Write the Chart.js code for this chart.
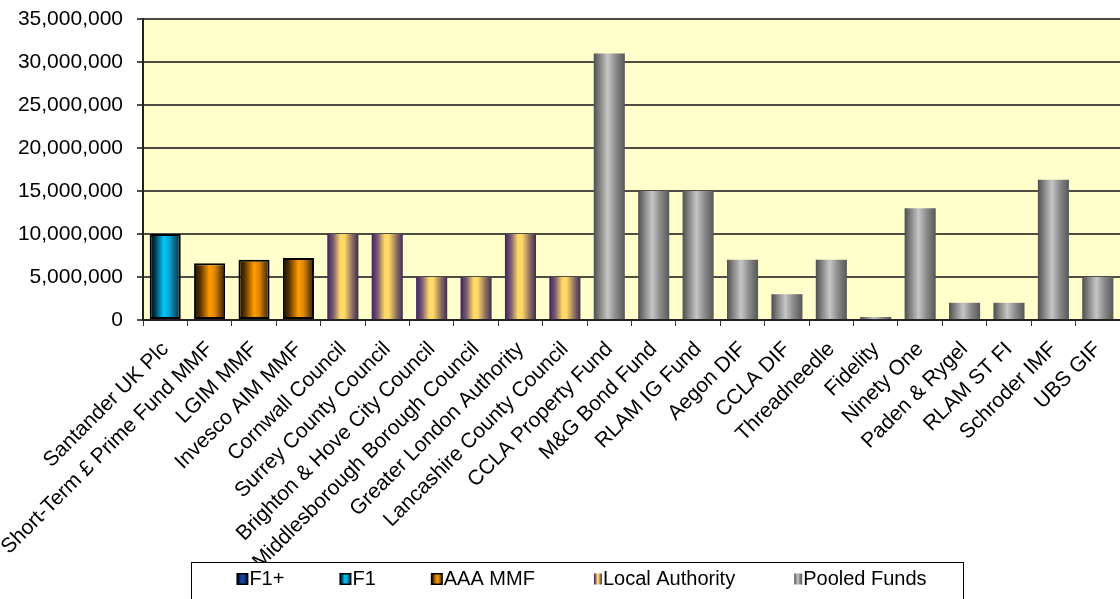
<!DOCTYPE html>
<html>
<head>
<meta charset="utf-8">
<script src="https://cdn.jsdelivr.net/npm/chart.js@4.4.1/dist/chart.umd.min.js"></script>
<style>
  html, body { margin: 0; padding: 0; background: #ffffff; overflow: hidden; }
  #wrap { width: 1120px; height: 599px; position: relative; }
</style>
</head>
<body>
<div id="wrap"><canvas id="chart" width="1120" height="599"></canvas></div>
<script>
// ---------- DATA ----------
const categories = [
  'Santander UK Plc', 'Short-Term £ Prime Fund MMF', 'LGIM MMF', 'Invesco AIM MMF',
  'Cornwall Council', 'Surrey County Council', 'Brighton & Hove City Council',
  'Middlesborough Borough Council', 'Greater London Authority', 'Lancashire County Council',
  'CCLA Property Fund', 'M&G Bond Fund', 'RLAM IG Fund', 'Aegon DIF', 'CCLA DIF',
  'Threadneedle', 'Fidelity', 'Ninety One', 'Paden & Rygel', 'RLAM ST FI',
  'Schroder IMF', 'UBS GIF'
];
const groupOf = [
  'F1', 'AAA MMF', 'AAA MMF', 'AAA MMF',
  'Local Authority', 'Local Authority', 'Local Authority',
  'Local Authority', 'Local Authority', 'Local Authority',
  'Pooled Funds', 'Pooled Funds', 'Pooled Funds', 'Pooled Funds', 'Pooled Funds',
  'Pooled Funds', 'Pooled Funds', 'Pooled Funds', 'Pooled Funds', 'Pooled Funds',
  'Pooled Funds', 'Pooled Funds'
];
const amounts = [
  10000000, 6600000, 7000000, 7200000,
  10000000, 10000000, 5000000,
  5000000, 10000000, 5000000,
  31000000, 15000000, 15000000, 7000000, 3000000,
  7000000, 350000, 13000000, 2000000, 2000000,
  16300000, 5000000
];
const seriesNames = ['F1+', 'F1', 'AAA MMF', 'Local Authority', 'Pooled Funds'];
const yTickValues = [0, 5000000, 10000000, 15000000, 20000000, 25000000, 30000000, 35000000];

// ---------- STYLES ----------
const FONT = "'Liberation Sans', Arial, Helvetica, sans-serif";
const BAR_PCT = 0.7;
const gradientStops = {
  'F1+': [[0, '#000000'], [0.2, '#06164a'], [0.45, '#1f4fb0'], [0.65, '#123a8a'], [1, '#020a24']],
  'F1': [[0, '#000000'], [0.18, '#053a4e'], [0.45, '#00c8ff'], [0.62, '#0aa6d6'], [1, '#0a2630']],
  'AAA MMF': [[0, '#120a00'], [0.2, '#5a3200'], [0.5, '#ff9c00'], [0.66, '#e08800'], [1, '#2e1a00']],
  'Local Authority': [[0, '#3e1f60'], [0.2, '#7d6070'], [0.42, '#ffd966'], [0.55, '#ffd966'], [0.8, '#8d7160'], [1, '#3f2b52']],
  'Pooled Funds': [[0, '#4e4e4e'], [0.22, '#8a8a8a'], [0.45, '#c6c6c6'], [0.7, '#8c8c8c'], [1, '#575757']]
};
const borderOf = { 'F1+': '#000000', 'F1': '#000000', 'AAA MMF': '#000000', 'Local Authority': null, 'Pooled Funds': null };

function makeFill(name) {
  const stops = gradientStops[name];
  return (ctx) => {
    const chart = ctx.chart;
    const xs = chart.scales && chart.scales.x;
    if (!xs || ctx.type !== 'data' || !chart.chartArea) return stops[Math.floor(stops.length / 2)][1];
    const center = xs.getPixelForValue(ctx.dataIndex);
    const half = (xs.width / categories.length) * BAR_PCT / 2;
    const g = chart.ctx.createLinearGradient(center - half, 0, center + half, 0);
    stops.forEach(([o, c]) => g.addColorStop(o, c));
    return g;
  };
}

function legendImage(name) {
  const boxed = !!borderOf[name];
  const c = document.createElement('canvas');
  c.width = 28; c.height = 14;
  const g = c.getContext('2d');
  const w = boxed ? 12 : 8, h = boxed ? 12 : 11;
  const x0 = 25 - w, y0 = (14 - h) / 2;
  const grad = g.createLinearGradient(x0, 0, x0 + w, 0);
  gradientStops[name].forEach(([o, col]) => grad.addColorStop(o, col));
  g.fillStyle = grad;
  g.fillRect(x0, y0, w, h);
  if (boxed) {
    g.strokeStyle = '#000';
    g.lineWidth = 1.5;
    g.strokeRect(x0 + 0.75, y0 + 0.75, w - 1.5, h - 1.5);
  }
  return c;
}
const legendImages = seriesNames.map(legendImage);

const datasets = seriesNames.map((name) => ({
  label: name,
  data: amounts.map((v, i) => (groupOf[i] === name ? v : null)),
  backgroundColor: makeFill(name),
  borderColor: borderOf[name] || 'rgba(0,0,0,0)',
  borderWidth: borderOf[name] ? 2 : 0,
  borderSkipped: false,
  grouped: false,
  categoryPercentage: 1,
  barPercentage: BAR_PCT
}));

// ---------- PLUGINS ----------
const plotBg = {
  id: 'plotBg',
  beforeDraw(chart) {
    const { ctx, chartArea: a } = chart;
    ctx.save();
    ctx.fillStyle = '#ffffcc';
    ctx.fillRect(a.left, a.top, a.right - a.left, a.bottom - a.top);
    ctx.restore();
  }
};
const LEGEND_SHIFT = 21;
const legendFrame = {
  id: 'legendFrame',
  afterLayout(chart) {
    chart.legend.left += LEGEND_SHIFT;
    chart.legend.right += LEGEND_SHIFT;
  },
  afterDraw(chart) {
    const lg = chart.legend;
    const hb = lg.legendHitBoxes;
    if (!hb || !hb.length) return;
    const first = hb[0], last = hb[hb.length - 1];
    const L = Math.round(first.left - 44), R = Math.round(last.left + last.width + 36);
    const T = Math.round(first.top - 7);
    const ctx = chart.ctx;
    ctx.save();
    ctx.fillStyle = '#ffffff';
    ctx.fillRect(L, T, R - L, chart.height - T + 2);
    ctx.strokeStyle = '#000000';
    ctx.lineWidth = 1;
    ctx.strokeRect(L + 0.5, T + 0.5, R - L, chart.height - T + 5);
    ctx.restore();
    lg.draw();
  }
};

Chart.defaults.font.family = FONT;
Chart.defaults.color = '#000000';

new Chart(document.getElementById('chart'), {
  type: 'bar',
  data: { labels: categories, datasets },
  plugins: [plotBg, legendFrame],
  options: {
    responsive: false,
    animation: false,
    events: [],
    layout: { padding: { top: 19, left: 0, right: 0, bottom: 0 } },
    scales: {
      x: {
        offset: true,
        grid: { display: true, drawOnChartArea: false, drawTicks: true, tickLength: 6, color: '#333333', lineWidth: 1 },
        border: { display: true, color: '#222222', width: 2 },
        ticks: { autoSkip: false, minRotation: 45, maxRotation: 45, padding: 11, font: { size: 21, family: FONT }, color: '#000000' },
        afterFit(s) {
          s.height = 195;
          s.paddingRight = 0;
          s._computeLabelArea = () => undefined; // let long rotated labels run under the legend frame
        }
      },
      y: {
        min: 0, max: 35000000,
        afterBuildTicks(s) { s.ticks = yTickValues.map((v) => ({ value: v })); },
        grid: { color: '#4d4d44', lineWidth: 2, tickLength: 6, drawTicks: true },
        border: { display: true, color: '#222222', width: 2 },
        ticks: {
          padding: 14,
          font: { size: 21, family: FONT },
          color: '#000000',
          callback: (v) => Number(v).toLocaleString('en-US')
        },
        afterFit(s) { s.width = 143; s.paddingTop = 0; }
      }
    },
    plugins: {
      title: { display: false },
      tooltip: { enabled: false },
      legend: {
        display: true,
        position: 'bottom',
        labels: {
          usePointStyle: true,
          pointStyleWidth: 4,
          padding: 54,
          color: '#000000',
          font: { size: 20, family: FONT },
          generateLabels: () => seriesNames.map((n, i) => ({
            text: n,
            pointStyle: legendImages[i],
            fillStyle: '#000',
            strokeStyle: '#000',
            lineWidth: 0,
            hidden: false,
            datasetIndex: i,
            fontColor: '#000000'
          }))
        }
      }
    }
  }
});
</script>
</body>
</html>
